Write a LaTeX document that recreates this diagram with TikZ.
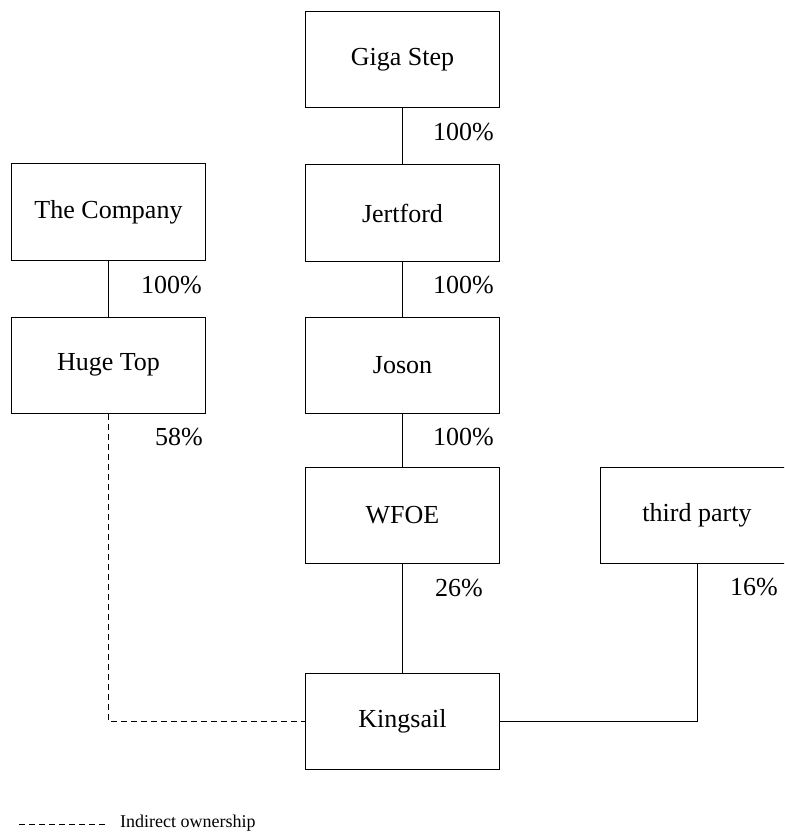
\documentclass[tikz,border=0pt]{standalone}
\usepackage{fontspec}
\setmainfont{Liberation Serif}
\begin{document}
\begin{tikzpicture}[x=1pt,y=-1pt,
  box/.style={draw, line width=1pt, minimum width=194pt, minimum height=96pt, inner sep=0pt, font=\fontsize{26}{30}\selectfont},
  pct/.style={font=\fontsize{26}{30}\selectfont, inner sep=0pt},
  link/.style={line width=1pt},
  indirect/.style={line width=1pt, dash pattern=on 6pt off 4pt}]
\clip (0,0) rectangle (784,834);
\node[box] (giga) at (402.5,60) {Giga Step};
\node[box] (jert) at (402.5,213) {Jertford};
\node[box] (comp) at (108.5,212) {The Company};
\node[box] (huge) at (108.5,365) {Huge Top};
\node[box] (joson) at (402.5,365) {Joson};
\node[box] (wfoe) at (402.5,515) {WFOE};
\node[box] (third) at (697,515) {third party};
\node[box] (king) at (402.5,721) {Kingsail};
\draw[link] (giga) -- (jert);
\draw[link] (jert) -- (joson);
\draw[link] (joson) -- (wfoe);
\draw[link] (wfoe) -- (king);
\draw[link] (comp) -- (huge);
\draw[indirect] (huge.south) |- (king.west);
\draw[link] (third.south) |- (king.east);
\node[pct, anchor=east] (p1) at (494,132) {100\%};
\node[pct, anchor=east] (p2) at (494,285) {100\%};
\node[pct, anchor=east] (p3) at (202,285) {100\%};
\node[pct, anchor=east] (p4) at (494,437) {100\%};
\node[pct, anchor=east] (p5) at (203,437) {58\%};
\node[pct] (p6) at (459,588) {26\%};
\node[pct, anchor=east] (p7) at (778,587) {16\%};
\coordinate (l1) at (19,824);
\coordinate (l2) at (108,824);
\draw[indirect] (l1) -- (l2);
\node[anchor=west, inner sep=0pt, font=\fontsize{18}{20}\selectfont] (legtext) at (120,823) {Indirect ownership};
\end{tikzpicture}
\end{document}
